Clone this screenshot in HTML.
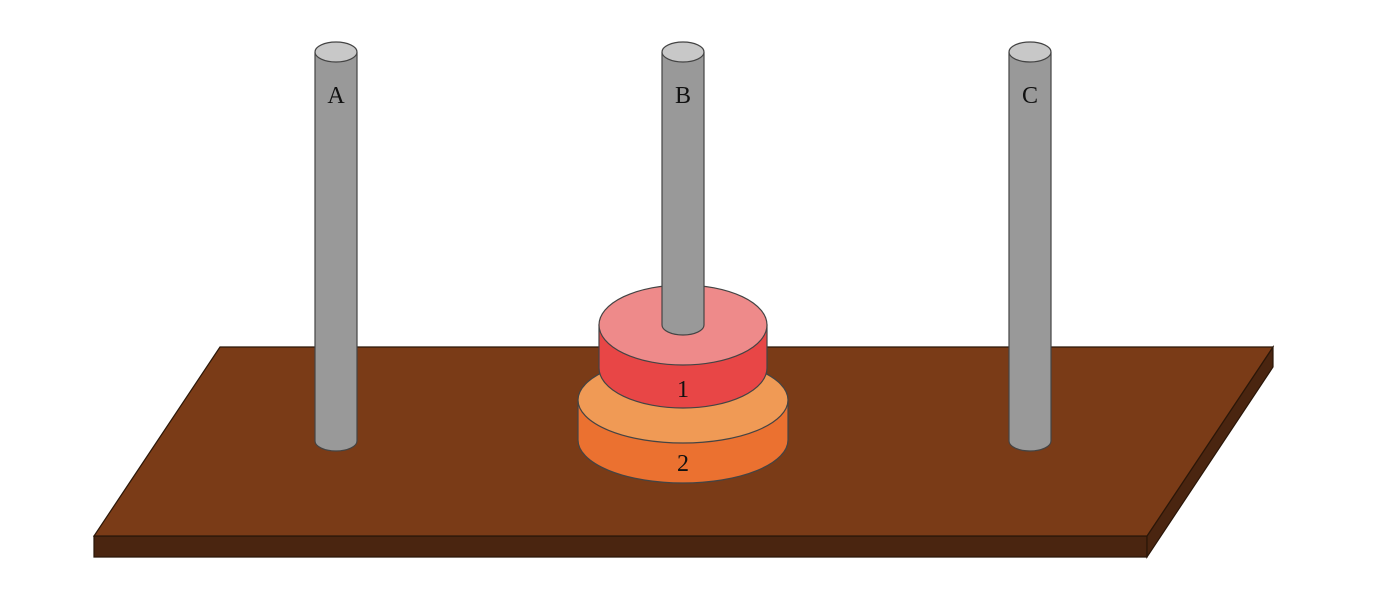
<!DOCTYPE html>
<html><head><meta charset="utf-8"><style>body{margin:0;background:#fff}</style></head>
<body>
<svg width="1388" height="590" viewBox="0 0 1388 590" xmlns="http://www.w3.org/2000/svg" font-family="Liberation Serif, serif">
<g stroke="#2a1608" stroke-width="1.2">
<polygon points="94,536 1147,536 1147,557 94,557" fill="#4a2510"/>
<polygon points="1147,536 1273,347 1273,367 1147,557" fill="#4a2510"/>
<polygon points="220,347 1273,347 1147,536 94,536" fill="#7a3b17"/>
</g>
<g stroke="#444" stroke-width="1.2">
<g>
<path d="M315,52 V441 A21,10 0 0 0 357,441 V52" fill="#999"/>
<ellipse cx="336" cy="52" rx="21" ry="10" fill="#c8c8c8"/>
</g>
<g>
<path d="M1009,52 V441 A21,10 0 0 0 1051,441 V52" fill="#999"/>
<ellipse cx="1030" cy="52" rx="21" ry="10" fill="#c8c8c8"/>
</g>
<g>
<path d="M578,400 V440 A105,43 0 0 0 788,440 V400 Z" fill="#eb7130"/>
<ellipse cx="683" cy="400" rx="105" ry="43" fill="#f09a55"/>
</g>
<g>
<path d="M599,325 V368 A84,40 0 0 0 767,368 V325 Z" fill="#e84646"/>
<ellipse cx="683" cy="325" rx="84" ry="40" fill="#ee8a8a"/>
</g>
<g>
<path d="M662,52 V325 A21,10 0 0 0 704,325 V52" fill="#999"/>
<ellipse cx="683" cy="52" rx="21" ry="10" fill="#c8c8c8"/>
</g>
</g>
<g font-size="24" fill="#111" text-anchor="middle">
<text x="336" y="103">A</text>
<text x="683" y="103">B</text>
<text x="1030" y="103">C</text>
<text x="683" y="397">1</text>
<text x="683" y="471">2</text>
</g>
</svg>
</body></html>
